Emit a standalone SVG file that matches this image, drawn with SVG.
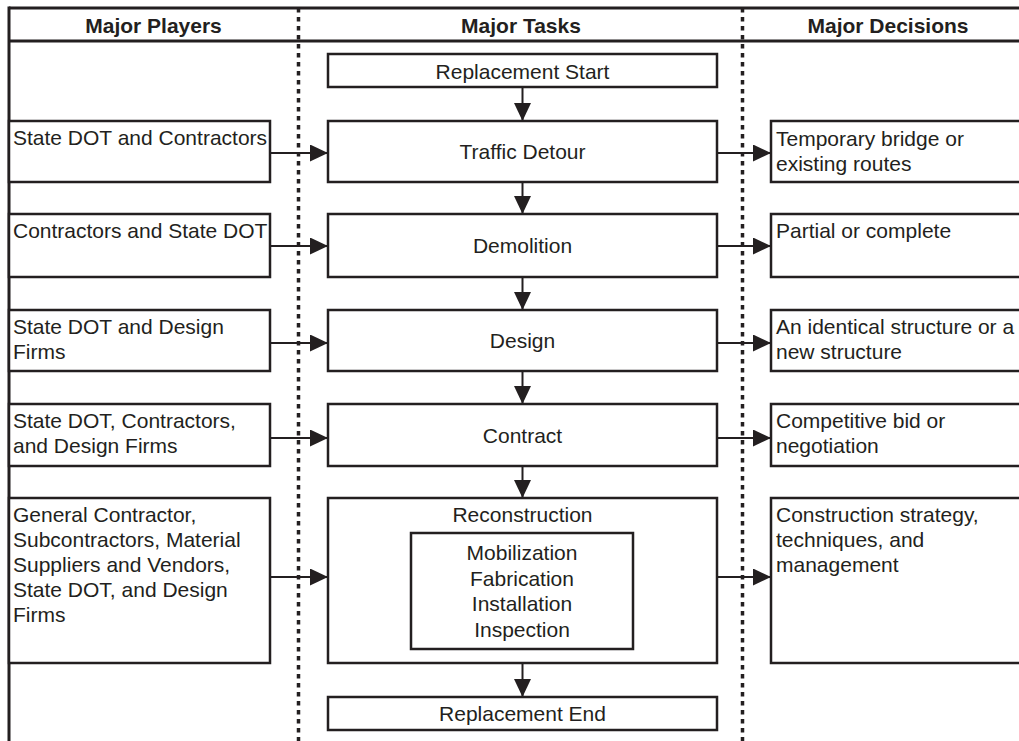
<svg xmlns="http://www.w3.org/2000/svg" width="1019" height="741" viewBox="0 0 1019 741">
<defs>
<marker id="ah" markerWidth="18" markerHeight="17" refX="18" refY="8.5" orient="auto" markerUnits="userSpaceOnUse">
<path d="M0,0 L18,8.5 L0,17 Z" fill="#231f20"/>
</marker>
<style>
.frame{stroke:#231f20;stroke-width:3;fill:none}
.dot{stroke:#231f20;stroke-width:3.5;stroke-dasharray:4.5 4.5;fill:none}
.box{fill:#fff;stroke:#231f20;stroke-width:2.5}
.conn{stroke:#231f20;stroke-width:2;fill:none;marker-end:url(#ah)}
text{font-family:"Liberation Sans",Arial,sans-serif;font-size:21px;fill:#231f20}
.hd{font-weight:bold;text-anchor:middle}
.c{text-anchor:middle}
</style>
</defs>
<rect width="1019" height="741" fill="#fff"/>
<g id="frame">
<line class="frame" x1="9" y1="8" x2="1019" y2="8"/>
<line class="frame" x1="9" y1="41" x2="1019" y2="41"/>
<line class="frame" x1="9" y1="6.5" x2="9" y2="741"/>
<line class="dot" x1="298.5" y1="8" x2="298.5" y2="741"/>
<line class="dot" x1="742.5" y1="8" x2="742.5" y2="741"/>
<text class="hd" x="153.5" y="33">Major Players</text>
<text class="hd" x="521" y="33">Major Tasks</text>
<text class="hd" x="888" y="33">Major Decisions</text>
</g>
<g id="connectors">
<line class="conn" x1="522.5" y1="87" x2="522.5" y2="121"/>
<line class="conn" x1="522.5" y1="182" x2="522.5" y2="214"/>
<line class="conn" x1="522.5" y1="277" x2="522.5" y2="310"/>
<line class="conn" x1="522.5" y1="371" x2="522.5" y2="404"/>
<line class="conn" x1="522.5" y1="466" x2="522.5" y2="498"/>
<line class="conn" x1="522.5" y1="663" x2="522.5" y2="697"/>
<line class="conn" x1="270" y1="153" x2="328" y2="153"/>
<line class="conn" x1="270" y1="246" x2="328" y2="246"/>
<line class="conn" x1="270" y1="343" x2="328" y2="343"/>
<line class="conn" x1="270" y1="438" x2="328" y2="438"/>
<line class="conn" x1="270" y1="577" x2="328" y2="577"/>
<line class="conn" x1="717" y1="153" x2="771" y2="153"/>
<line class="conn" x1="717" y1="246" x2="771" y2="246"/>
<line class="conn" x1="717" y1="343" x2="771" y2="343"/>
<line class="conn" x1="717" y1="438" x2="771" y2="438"/>
<line class="conn" x1="717" y1="577" x2="771" y2="577"/>
</g>
<g id="start"><rect class="box" x="328" y="54" width="389" height="33"/><text class="c" x="522.5" y="79">Replacement Start</text></g>
<g id="detour"><rect class="box" x="328" y="121" width="389" height="61"/><text class="c" x="522.5" y="158.5">Traffic Detour</text></g>
<g id="demolition"><rect class="box" x="328" y="214" width="389" height="63"/><text class="c" x="522.5" y="253">Demolition</text></g>
<g id="design"><rect class="box" x="328" y="310" width="389" height="61"/><text class="c" x="522.5" y="348">Design</text></g>
<g id="contract"><rect class="box" x="328" y="404" width="389" height="62"/><text class="c" x="522.5" y="442.5">Contract</text></g>
<g id="reconstruction"><rect class="box" x="328" y="498" width="389" height="165"/><text class="c" x="522.5" y="522">Reconstruction</text></g>
<g id="subtasks"><rect class="box" x="411" y="533" width="222" height="116"/>
<text class="c" x="522" y="560">Mobilization</text>
<text class="c" x="522" y="586">Fabrication</text>
<text class="c" x="522" y="611">Installation</text>
<text class="c" x="522" y="637">Inspection</text></g>
<g id="end"><rect class="box" x="328" y="697" width="389" height="33"/><text class="c" x="522.5" y="721">Replacement End</text></g>
<g id="p1"><rect class="box" x="9" y="121" width="261" height="61"/><text x="13" y="145">State DOT and Contractors</text></g>
<g id="p2"><rect class="box" x="9" y="214" width="261" height="63"/><text x="13" y="238">Contractors and State DOT</text></g>
<g id="p3"><rect class="box" x="9" y="310" width="261" height="61"/><text x="13" y="334">State DOT and Design</text><text x="13" y="359">Firms</text></g>
<g id="p4"><rect class="box" x="9" y="404" width="261" height="62"/><text x="13" y="428">State DOT, Contractors,</text><text x="13" y="453">and Design Firms</text></g>
<g id="p5"><rect class="box" x="9" y="498" width="261" height="165"/>
<text x="13" y="522">General Contractor,</text>
<text x="13" y="547">Subcontractors, Material</text>
<text x="13" y="572">Suppliers and Vendors,</text>
<text x="13" y="597">State DOT, and Design</text>
<text x="13" y="622">Firms</text></g>
<g id="d1"><rect class="box" x="771" y="121" width="261" height="61"/><text x="776" y="146">Temporary bridge or</text><text x="776" y="171">existing routes</text></g>
<g id="d2"><rect class="box" x="771" y="214" width="261" height="63"/><text x="776" y="238">Partial or complete</text></g>
<g id="d3"><rect class="box" x="771" y="310" width="261" height="61"/><text x="776" y="334">An identical structure or a</text><text x="776" y="359">new structure</text></g>
<g id="d4"><rect class="box" x="771" y="404" width="261" height="62"/><text x="776" y="428">Competitive bid or</text><text x="776" y="453">negotiation</text></g>
<g id="d5"><rect class="box" x="771" y="498" width="261" height="165"/>
<text x="776" y="522">Construction strategy,</text>
<text x="776" y="547">techniques, and</text>
<text x="776" y="572">management</text></g>
</svg>
